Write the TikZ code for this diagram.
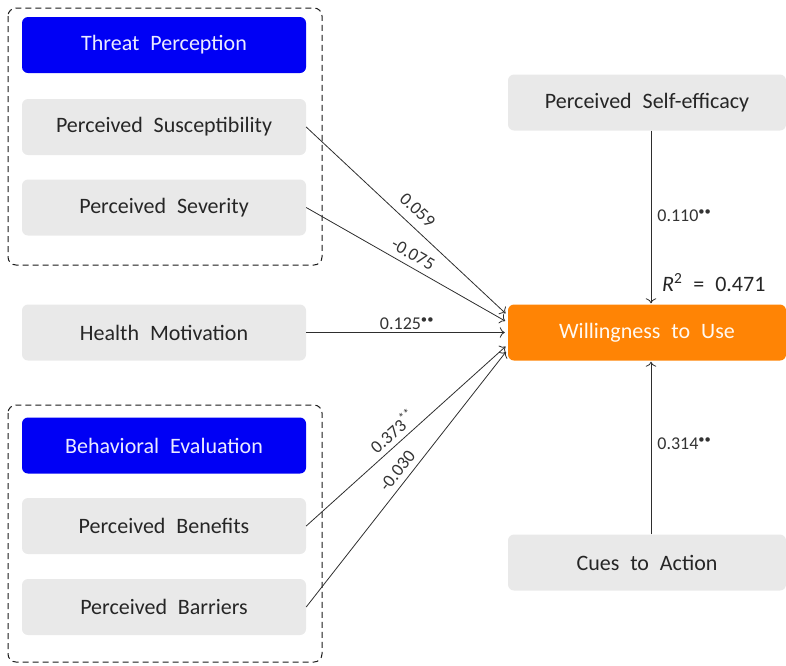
\documentclass[tikz,border=0pt]{standalone}
\usepackage{fontspec}
\setmainfont{Carlito}[WordSpace=2.2]
\usetikzlibrary{positioning, arrows.meta}
\definecolor{boxgray}{HTML}{E9E9E9}
\definecolor{headblue}{HTML}{0000F5}
\definecolor{outorange}{HTML}{FF8405}
\definecolor{linegray}{HTML}{2E2E2E}

\begin{document}
\begin{tikzpicture}[x=1pt, y=-1pt,
  factor/.style={rectangle, rounded corners=6pt, fill=boxgray, minimum width=284pt, minimum height=56pt, inner sep=0pt, font=\fontsize{22}{25}\selectfont, text=black!85},
  header/.style={factor, fill=headblue, text=white!92!blue},
  outcome/.style={factor, minimum width=278pt, fill=outorange, text=white!95!orange},
  group/.style={draw=black!90, dash pattern=on 6pt off 4pt, line width=1pt, rounded corners=8pt},
  path/.style={-{To[length=5pt]}, linegray, line width=0.8pt, shorten >=3pt},
  coef/.style={font=\fontsize{18}{20}\selectfont, text=black!80, inner sep=2pt}]
  \useasboundingbox (0,0) rectangle (786,665);

  % threat perception group
  \draw[group] (8,8) rectangle (322,265);
  \node[header] (threat) at (164,45) {Threat Perception};
  \node[factor] (susc) at (164,127) {Perceived Susceptibility};
  \node[factor] (sev) at (164,207.5) {Perceived Severity};

  \node[factor] (health) at (164,332.5) {Health Motivation};

  % behavioral evaluation group
  \draw[group] (8,405) rectangle (322,662);
  \node[header] (behav) at (164,445.5) {Behavioral Evaluation};
  \node[factor] (benef) at (164,526) {Perceived Benefits};
  \node[factor] (barr) at (164,607) {Perceived Barriers};

  \node[outcome] (will) at (647,332.5) {Willingness to Use};
  \node[factor, minimum width=278pt] (selfeff) at (647,102.5) {Perceived Self-efficacy};
  \node[factor, minimum width=278pt] (cues) at (647,562.5) {Cues to Action};

  \draw[path] (susc.east) -- node[coef, sloped, above=7pt, pos=0.5] {0.059} ([yshift=17pt]will.west);
  \draw[path] (sev.east) -- node[coef, sloped, above=4pt, pos=0.5] {-0.075} ([yshift=10pt]will.west);
  \draw[path] (health.east) -- node[coef, above, pos=0.5] {0.125\textsuperscript{••}} (will.west);
  \draw[path] (benef.east) -- node[coef, sloped, above=3pt, pos=0.47] {0.373\textsuperscript{**}} ([yshift=-12pt]will.west);
  \draw[path] (barr.east) -- node[coef, sloped, above=4pt, pos=0.5] {-0.030} ([yshift=-17pt]will.west);

  \draw[path, shorten >=1pt] ([xshift=4pt]selfeff.south) -- node[coef, right=4pt, pos=0.49] {0.110\textsuperscript{••}} ([xshift=4pt]will.north);
  \draw[path, shorten >=1pt] ([xshift=4pt]cues.north) -- node[coef, right=4pt, pos=0.52] {0.314\textsuperscript{••}} ([xshift=4pt]will.south);

  \node[anchor=base west, font=\fontsize{22}{24}\selectfont, text=black!85, inner sep=0pt] (rsq) at ([xshift=15pt, yshift=13pt]will.north) {\textit{R}\textsuperscript{2} = 0.471};
\end{tikzpicture}
\end{document}
